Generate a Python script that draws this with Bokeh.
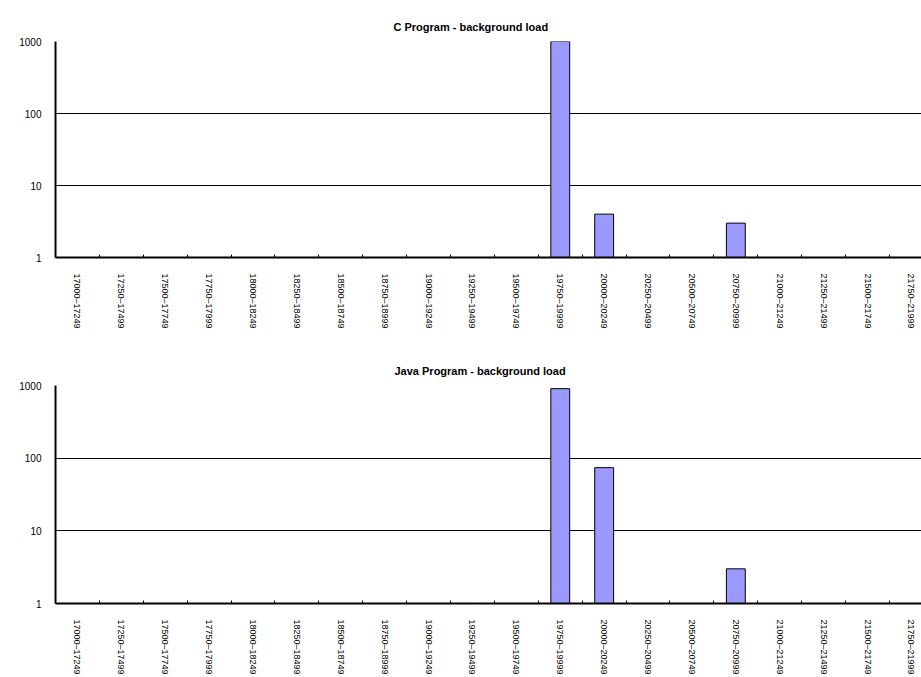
import math
from bokeh.plotting import figure
from bokeh.layouts import column
from bokeh.models import Range1d, FixedTicker, Title
from bokeh.embed import file_html
from bokeh.resources import INLINE

# Response-time buckets (one bar per 250-unit bin)
bins = ["17000–17249", "17250–17499", "17500–17749", "17750–17999",
        "18000–18249", "18250–18499", "18500–18749", "18750–18999",
        "19000–19249", "19250–19499", "19500–19749", "19750–19999",
        "20000–20249", "20250–20499", "20500–20749", "20750–20999",
        "21000–21249", "21250–21499", "21500–21749", "21750–21999"]

# Counts per bin; empty bins are omitted on a log axis
c_counts = {"19750–19999": 1000, "20000–20249": 4, "20750–20999": 3}
java_counts = {"19750–19999": 905, "20000–20249": 74, "20750–20999": 3}

y_ticks = [1, 10, 100, 1000]
titles = ["C Program - background load", "Java Program - background load"]

FONT = "Liberation Sans"
BAR_FILL = "#9999FF"


def make_hist(title, counts, top_border, frame_h, bottom_border, title_offset):
    p = figure(y_axis_type="log",
               x_range=Range1d(0, 19.73), y_range=Range1d(1, 1000),
               output_backend="svg", toolbar_location=None,
               frame_width=866, frame_height=frame_h,
               min_border_left=55, min_border_right=0,
               min_border_top=top_border, min_border_bottom=bottom_border)
    p.title = Title(text=title, align="left", offset=title_offset,
                    text_font=FONT, text_font_size="11px",
                    text_font_style="bold", text_color="black",
                    vertical_align="top", standoff=14)
    p.outline_line_color = None
    p.background_fill_color = "white"
    p.border_fill_color = "white"

    idx = [bins.index(k) for k in counts]
    xs = [i + 0.5 for i in idx]
    tops = [counts[k] for k in counts]
    p.vbar(x=xs, top=tops, bottom=1, width=0.43,
           fill_color=BAR_FILL, line_color="black", line_width=1)

    # x axis: labels at bin centres, small inside ticks at bin edges
    xt = FixedTicker(ticks=[i + 0.5 for i in range(len(bins))],
                     minor_ticks=list(range(len(bins) + 1)))
    p.xaxis.ticker = xt
    p.xaxis.major_label_overrides = {i + 0.5: b for i, b in enumerate(bins)}
    p.xaxis.major_label_orientation = -math.pi / 2
    p.xaxis.major_tick_line_color = None
    p.xaxis.minor_tick_in = 3
    p.xaxis.minor_tick_out = 0
    p.xaxis.minor_tick_line_color = "black"
    p.xaxis.axis_line_width = 2
    p.xaxis.axis_line_color = "black"
    p.xaxis.major_label_text_font = FONT
    p.xaxis.major_label_text_font_size = "9px"
    p.xaxis.major_label_text_color = "black"
    p.xaxis.major_label_standoff = 10

    p.yaxis.ticker = FixedTicker(ticks=y_ticks, minor_ticks=[])
    p.yaxis.major_label_overrides = {t: str(t) for t in y_ticks}
    p.yaxis.axis_line_width = 2
    p.yaxis.axis_line_color = "black"
    p.yaxis.major_tick_in = 0
    p.yaxis.major_tick_out = 0
    p.yaxis.minor_tick_line_color = None
    p.yaxis.major_label_text_font = FONT
    p.yaxis.major_label_text_font_size = "10px"
    p.yaxis.major_label_text_color = "black"
    p.yaxis.major_label_standoff = 14

    p.xgrid.grid_line_color = None
    p.ygrid.ticker = FixedTicker(ticks=[10, 100, 1000])
    p.ygrid.grid_line_color = "black"
    p.ygrid.grid_line_width = 1
    return p


p1 = make_hist(titles[0], c_counts, 41, 216, 88, 338)
p2 = make_hist(titles[1], java_counts, 40, 218, 74, 339)

layout = column(p1, p2, spacing=0)
open("out.html", "w").write(file_html(layout, INLINE))
